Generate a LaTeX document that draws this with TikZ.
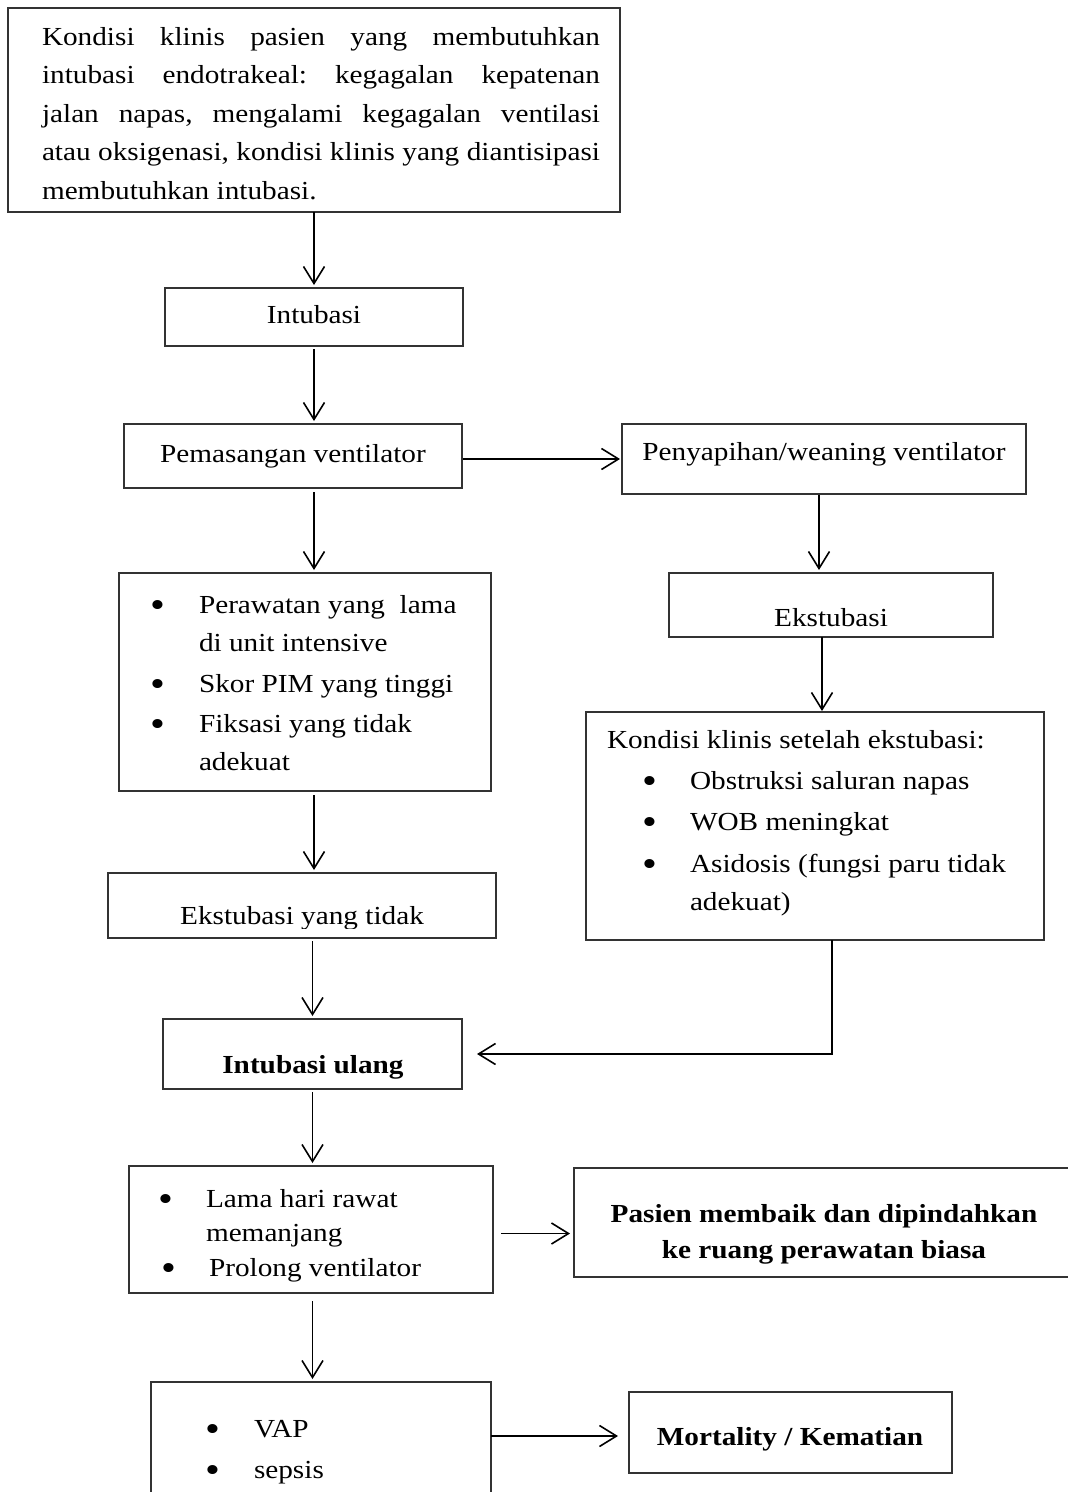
\documentclass[tikz,border=0pt]{standalone}
\usepackage{fontspec}
\setmainfont{Liberation Serif}[FakeStretch=1.125]
\usetikzlibrary{arrows.meta,fit}
\frenchspacing
\newcommand{\bul}{\raisebox{-4pt}{\scalebox{1.45}{•}}}
\tikzset{
  box/.style={draw=black!80, line width=1.3pt, inner sep=0pt, outer sep=0pt},
  txt/.style={font=\fontsize{26pt}{30pt}\selectfont, inner sep=0pt, outer sep=0pt},
  btxt/.style={font=\fontsize{26pt}{30pt}\selectfont\bfseries, inner sep=0pt, outer sep=0pt},
  conn/.style={line width=1.6pt, draw=black},
  arr/.style={conn, -{Straight Barb[length=17pt,width=21pt]}, shorten >=3pt, shorten <=3pt},
}
\begin{document}
\begin{tikzpicture}[x=1pt,y=-1pt]
\useasboundingbox (0,0) rectangle (1068,1492);
\clip (0,0) rectangle (1068,1492);
\fill[white] (0,0) rectangle (1068,1492);

% ---------- boxes ----------
\node[box, fit={(8,8) (620,212)}] (top) {};
\node[box, fit={(165,288) (463,346)}] (intub) {};
\node[box, fit={(124,424) (462,488)}] (pem) {};
\node[box, fit={(622,424) (1026,494)}] (peny) {};
\node[box, fit={(669,573) (993,637)}] (ekst) {};
\node[box, fit={(586,712) (1044,940)}] (kond) {};
\node[box, fit={(119,573) (491,791)}] (per) {};
\node[box, fit={(108,873) (496,938)}] (eyt) {};
\node[box, fit={(163,1019) (462,1089)}] (ulang) {};
\node[box, fit={(129,1166) (493,1293)}] (lama) {};
\node[box, fit={(574,1168) (1080,1277)}] (pasien) {};
\node[box, fit={(151,1382) (491,1505)}] (vap) {};
\node[box, fit={(629,1392) (952,1473)}] (mort) {};

% ---------- texts ----------
\node[txt, anchor=base west] (top1) at (42,45) {\makebox[558pt][s]{Kondisi klinis pasien yang membutuhkan}};
\node[txt, anchor=base west] (top2) at (42,83.5) {\makebox[558pt][s]{intubasi endotrakeal: kegagalan kepatenan}};
\node[txt, anchor=base west] (top3) at (42,122) {\makebox[558pt][s]{jalan napas, mengalami kegagalan ventilasi}};
\node[txt, anchor=base west] (top4) at (42,160.5) {\makebox[558pt][s]{atau oksigenasi, kondisi klinis yang diantisipasi}};
\node[txt, anchor=base west] (top5) at (42,199) {membutuhkan intubasi.};

\node[txt, anchor=base] (intubt) at (314,323) {Intubasi};
\node[txt, anchor=base] (pemt) at (293,462) {Pemasangan ventilator};
\node[txt, anchor=base] (penyt) at (824,460) {Penyapihan/weaning ventilator};
\node[txt, anchor=base] (ekstt) at (831,626) {Ekstubasi};

\node[txt, anchor=base west] (kond0) at (607,748) {Kondisi klinis setelah ekstubasi:};
\node[txt, anchor=base] (kondb1) at (650,789) {\bul};
\node[txt, anchor=base] (kondb2) at (650,830) {\bul};
\node[txt, anchor=base] (kondb3) at (650,872) {\bul};
\node[txt, anchor=base west] (kond1) at (690,789) {Obstruksi saluran napas};
\node[txt, anchor=base west] (kond2) at (690,830) {WOB meningkat};
\node[txt, anchor=base west] (kond3) at (690,872) {Asidosis (fungsi paru tidak};
\node[txt, anchor=base west] (kond4) at (690,910) {adekuat)};

\node[txt, anchor=base] (perb1) at (158,613) {\bul};
\node[txt, anchor=base] (perb2) at (158,692) {\bul};
\node[txt, anchor=base] (perb3) at (158,732) {\bul};
\node[txt, anchor=base west] (per1) at (199,613) {Perawatan yang\ \ lama};
\node[txt, anchor=base west] (per2) at (199,651) {di unit intensive};
\node[txt, anchor=base west] (per3) at (199,692) {Skor PIM yang tinggi};
\node[txt, anchor=base west] (per4) at (199,732) {Fiksasi yang tidak};
\node[txt, anchor=base west] (per5) at (199,770) {adekuat};

\begin{scope}
  \clip (108,873) rectangle (496,928);
  \node[txt, anchor=base] (eytt) at (302,924) {Ekstubasi yang tidak};
\end{scope}

\node[btxt, anchor=base] (ulangt) at (313,1073) {Intubasi ulang};

\node[txt, anchor=base] (lamab1) at (166,1207) {\bul};
\node[txt, anchor=base] (lamab2) at (169,1276) {\bul};
\node[txt, anchor=base west] (lama1) at (206,1207) {Lama hari rawat};
\node[txt, anchor=base west] (lama2) at (206,1241) {memanjang};
\node[txt, anchor=base west] (lama3) at (209,1276) {Prolong ventilator};

\node[btxt, anchor=base] (pas1) at (824,1222) {Pasien membaik dan dipindahkan};
\node[btxt, anchor=base] (pas2) at (824,1258) {ke ruang perawatan biasa};

\node[txt, anchor=base] (vapb1) at (213,1437) {\bul};
\node[txt, anchor=base] (vapb2) at (213,1478) {\bul};
\node[txt, anchor=base west] (vap1) at (254,1437) {VAP};
\node[txt, anchor=base west] (vap2) at (254,1478) {sepsis};

\node[btxt, anchor=base] (mortt) at (790,1445) {Mortality / Kematian};

% ---------- connectors ----------
\draw[arr, shorten <=0pt] (top.south) -- (intub.north);
\draw[arr] (intub.south) -- (intub.south |- pem.north);
\draw[arr, shorten <=4pt] (pem.south -| intub.south) -- (intub.south |- per.north);
\draw[arr, shorten <=4pt] (per.south -| intub.south) -- (intub.south |- eyt.north);
\draw[arr] (eyt.south -| ulang.north) -- (ulang.north);
\draw[arr] (ulang.south) -- (ulang.south |- lama.north);
\draw[arr, shorten <=8pt] (lama.south -| ulang.south) -- (ulang.south |- vap.north);

\draw[arr, shorten <=1pt, shorten >=2pt] (pem.east |- peny.west) -- (peny.west);
\draw[arr, shorten <=1pt] ([xshift=-5pt]peny.south) -- ([xshift=-5pt]peny.south |- ekst.north);
\draw[arr, shorten <=0pt, shorten >=1pt] ([xshift=7pt]kond.north |- ekst.south) -- ([xshift=7pt]kond.north);
\draw[arr, shorten <=0pt, shorten >=15pt] ([xshift=17pt]kond.south) |- (ulang.east);

\draw[arr, shorten <=8pt, shorten >=4pt] ([yshift=-4pt]lama.east) -- ([yshift=-4pt]lama.east -| pasien.west);
\draw[arr, shorten <=0pt, shorten >=11pt] ([yshift=-3.5pt]mort.west -| vap.east) -- ([yshift=-3.5pt]mort.west);
\end{tikzpicture}
\end{document}
